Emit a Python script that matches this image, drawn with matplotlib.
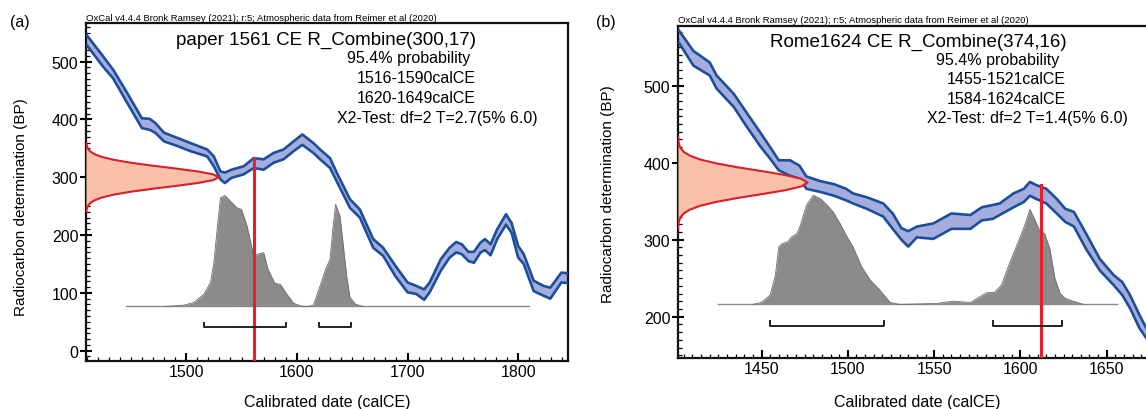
import matplotlib
matplotlib.use("Agg")
import matplotlib.pyplot as plt
from matplotlib.ticker import MultipleLocator

plt.rcParams['font.family'] = ['Liberation Sans', 'DejaVu Sans']

W, H = 1146, 410

# ---------------- Panel (a) data ----------------
cal_a_years = [1410, 1425, 1434, 1446, 1460, 1467, 1472, 1480, 1492, 1504, 1519, 1525,
               1531, 1535, 1541, 1552, 1561, 1570, 1579, 1588, 1597, 1605, 1615, 1621,
               1630, 1636, 1648, 1657, 1669, 1678, 1689, 1700, 1708, 1715, 1720, 1730,
               1738, 1744, 1749, 1755, 1760, 1766, 1770, 1775, 1781, 1789, 1794, 1800,
               1805, 1814, 1823, 1829, 1839, 1845]
cal_a_upper = [546, 509, 486, 448, 402, 401, 394, 377, 368, 359, 348, 336,
               310, 308, 313, 319, 333, 331, 342, 348, 362, 374, 359, 348,
               333, 308, 262, 244, 193, 178, 147, 118, 112, 106, 118, 158,
               178, 188, 184, 171, 171, 187, 193, 184, 210, 236, 221, 181,
               167, 121, 112, 109, 135, 134]
cal_a_lower = [529, 491, 471, 431, 385, 382, 377, 362, 354, 345, 336, 319,
               296, 290, 299, 305, 316, 313, 325, 331, 345, 356, 342, 331,
               316, 293, 247, 230, 178, 164, 129, 101, 98, 88, 101, 138,
               161, 170, 167, 155, 152, 170, 174, 165, 193, 218, 204, 161,
               150, 103, 95, 90, 118, 117]

post_a_years = [1481, 1498, 1507, 1516, 1522, 1525, 1528, 1531, 1535, 1540, 1546, 1550,
                1555, 1561, 1564, 1570, 1574, 1580, 1585, 1591, 1597, 1604, 1610, 1615,
                1621, 1626, 1630, 1632.5, 1635, 1639, 1642, 1645, 1648, 1653, 1660]
post_a_prob = [0.0, 0.012, 0.036, 0.111, 0.216, 0.395, 0.695, 0.979, 1.0, 0.949, 0.889, 0.874,
               0.725, 0.455, 0.470, 0.485, 0.335, 0.21, 0.2, 0.111, 0.03, 0.003, 0.0, 0.012,
               0.186, 0.335, 0.425, 0.695, 0.919, 0.814, 0.545, 0.275, 0.081, 0.021, 0.0]

c14_a_mean = 300
red_offsets = [-60, -55, -50, -45, -40, -35, -30, -25, -20, -15, -10, -5, 0,
               5, 10, 15, 20, 25, 30, 35, 40, 45, 50, 55, 60]
red_a_height = [0.002, 0.0053, 0.0132, 0.0301, 0.0628, 0.120, 0.211, 0.339, 0.500, 0.678, 0.841, 0.958, 1.0,
                0.958, 0.841, 0.678, 0.500, 0.339, 0.211, 0.120, 0.0628, 0.0301, 0.0132, 0.0053, 0.002]
range_a = [(1516, 1590), (1620, 1649)]
event_a_year = 1561
event_a_top = 333
baseline_a = 76.5
baseline_a_span = (1446, 1810)

# ---------------- Panel (b) data ----------------
cal_b_years = [1402, 1410.5, 1420, 1424, 1434, 1441, 1449, 1455, 1460, 1466.5, 1472, 1476,
               1484, 1492, 1499, 1503, 1511, 1520.5, 1526, 1531, 1535, 1540, 1549.5, 1560,
               1571, 1577.6, 1584, 1588, 1596, 1602, 1605.5, 1609, 1615, 1621, 1626, 1631,
               1638, 1646, 1654, 1659, 1663.5, 1669, 1673, 1680]
cal_b_upper = [572, 545, 530, 513, 489, 466, 440, 420, 403, 403, 396, 382,
               376, 372, 366, 360, 355, 347, 334, 315, 311, 317, 321, 334,
               332, 342, 345, 347, 360, 366, 375, 371, 366, 353, 340, 336,
               308, 275, 254, 245, 228, 202, 185, 160]
cal_b_lower = [556, 526, 513, 496, 472, 448, 422, 405, 390, 383, 379, 366,
               362, 357, 351, 347, 340, 330, 314, 300, 291, 303, 301, 314,
               314, 325, 327, 332, 342, 349, 357, 353, 347, 334, 323, 317,
               288, 260, 241, 228, 211, 185, 172, 145]

post_b_years = [1445, 1450, 1455, 1458, 1460, 1462, 1465, 1467.5, 1470.5, 1472.5, 1476, 1480,
                1484, 1488, 1491.5, 1495.5, 1499, 1503, 1508, 1513, 1518.5, 1524.5, 1530,
                1539, 1551.5, 1561, 1565, 1571, 1576.5, 1580.5, 1585, 1589, 1594, 1599.5,
                1602.5, 1605.5, 1608.5, 1611, 1614, 1617, 1620, 1623, 1626, 1630.5, 1636.5]
post_b_prob = [0.0, 0.018, 0.085, 0.268, 0.527, 0.558, 0.573, 0.619, 0.649, 0.726, 0.909, 1.0,
               0.970, 0.909, 0.848, 0.741, 0.634, 0.527, 0.345, 0.223, 0.131, 0.018, 0.0,
               0.003, 0.009, 0.03, 0.024, 0.018, 0.07, 0.107, 0.11, 0.177, 0.39, 0.604,
               0.726, 0.872, 0.771, 0.68, 0.649, 0.512, 0.238, 0.1, 0.055, 0.03, 0.0]

c14_b_mean = 374
red_b_height = [0.0009, 0.0027, 0.0076, 0.0192, 0.0439, 0.0914, 0.172, 0.295, 0.458, 0.645, 0.823, 0.952, 1.0,
                0.952, 0.823, 0.645, 0.458, 0.295, 0.172, 0.0914, 0.0439, 0.0192, 0.0076, 0.0027, 0.0009]
range_b = [(1455, 1521), (1584, 1624)]
event_b_year = 1612
event_b_top = 370.5
baseline_b = 216
baseline_b_span = (1425, 1656)

# ---------------- styling ----------------
BAND_FILL = '#a5addd'
BAND_EDGE = '#1c4f9b'
GRAY_FILL = '#8d8b89'
GRAY_EDGE = '#6e6d6b'
RED_FILL = '#fbc0a9'
RED_EDGE = '#d8202c'
RED_LINE = '#ee1c2a'

fig = plt.figure(figsize=(W / 100, H / 100), dpi=100)


def px_axes(left, top, right, bottom):
    return fig.add_axes([left / W, 1 - bottom / H, (right - left) / W, (bottom - top) / H])


def draw_panel(ax, xlim, ylim, years, up, lo, post_x, post_p, post_h, base, base_span,
               mean, red_h, red_amp, ranges, ev_year, ev_top, br_y, br_tick):
    ax.set_xlim(*xlim)
    ax.set_ylim(*ylim)
    # calibration curve band
    ax.fill_between(years, lo, up, color=BAND_FILL, lw=0, zorder=2)
    ax.plot(years, up, color=BAND_EDGE, lw=1.9, zorder=3, solid_joinstyle='round')
    ax.plot(years, lo, color=BAND_EDGE, lw=1.9, zorder=3, solid_joinstyle='round')
    # posterior distribution
    ax.plot(base_span, [base, base], color='#8a8988', lw=1.0, zorder=4)
    ys = [base + p * post_h for p in post_p]
    ax.fill_between(post_x, base, ys, color=GRAY_FILL, lw=0, zorder=4)
    ax.plot(post_x, ys, color=GRAY_EDGE, lw=0.6, zorder=4)
    # radiocarbon measurement
    red_y = [mean + o for o in red_offsets]
    red_x = [xlim[0] + h * red_amp for h in red_h]
    ax.fill_betweenx(red_y, xlim[0], red_x, color=RED_FILL, lw=0, zorder=5)
    ax.plot(red_x, red_y, color=RED_EDGE, lw=1.5, zorder=5)
    # event line
    ax.plot([ev_year, ev_year], [ylim[0], ev_top], color=RED_LINE, lw=2.2, zorder=6)
    # ranges
    for a, b in ranges:
        ax.plot([a, a, b, b], [br_y + br_tick, br_y, br_y, br_y + br_tick],
                color='#222222', lw=1.4, zorder=6)
    for s in ax.spines.values():
        s.set_linewidth(1.6)
        s.set_color('#111111')
    ax.tick_params(axis='x', which='major', direction='in', length=6, width=1.5,
                   labelsize=11.5, pad=2)
    ax.tick_params(axis='x', which='minor', direction='in', length=3, width=0.9)
    ax.tick_params(axis='y', which='major', direction='inout', length=9, width=1.5,
                   labelsize=11.5, pad=1)
    ax.tick_params(axis='y', which='minor', direction='in', length=3, width=0.9)
    ax.tick_params(top=False, right=False)


# Panel (a)
axA = px_axes(86, 24, 568, 362)
draw_panel(axA, (1409.5, 1845), (-17.8, 566.7), cal_a_years, cal_a_upper, cal_a_lower,
           post_a_years, post_a_prob, 192, baseline_a, baseline_a_span,
           c14_a_mean, red_a_height, 120, range_a, event_a_year, event_a_top, 40.3, 7.5)
axA.xaxis.set_major_locator(MultipleLocator(100))
axA.xaxis.set_minor_locator(MultipleLocator(10))
axA.yaxis.set_major_locator(MultipleLocator(100))
axA.yaxis.set_minor_locator(MultipleLocator(10))

# Panel (b)
xlim_b = (1401.6, 1680)
axB = px_axes(678, 26.7, 678 + (xlim_b[1] - xlim_b[0]) * 1.726, 359.3)
draw_panel(axB, xlim_b, (146, 577.7), cal_b_years, cal_b_upper, cal_b_lower,
           post_b_years, post_b_prob, 141.5, baseline_b, baseline_b_span,
           c14_b_mean, red_b_height, 75, range_b, event_b_year, event_b_top, 188.3, 6.5)
axB.xaxis.set_major_locator(MultipleLocator(50))
axB.xaxis.set_minor_locator(MultipleLocator(5))
axB.yaxis.set_major_locator(MultipleLocator(100))
axB.yaxis.set_minor_locator(MultipleLocator(10))


def ftext(x, y, s, **kw):
    fig.text(x / W, 1 - y / H, s, **kw)


oxcal = "OxCal v4.4.4 Bronk Ramsey (2021); r:5; Atmospheric data from Reimer et al (2020)"
for ax in (axA, axB):
    ax.text(0.0, 1.004, oxcal, transform=ax.transAxes, fontsize=6.8, ha='left', va='bottom')

ftext(10, 22, "(a)", fontsize=11.5, va='center')
ftext(596, 22, "(b)", fontsize=11.5, va='center')

# panel a texts
ftext(176, 40, "paper 1561 CE R_Combine(300,17)", fontsize=13.5, va='center')
ftext(347, 58.5, "95.4% probability", fontsize=11.5, va='center')
ftext(357, 79, "1516-1590calCE", fontsize=11.5, va='center')
ftext(357, 98.5, "1620-1649calCE", fontsize=11.5, va='center')
ftext(337, 118, "X2-Test: df=2 T=2.7(5% 6.0)", fontsize=11.5, va='center')

# panel b texts
ftext(769.5, 42, "Rome1624 CE R_Combine(374,16)", fontsize=13.5, va='center')
ftext(935.6, 60, "95.4% probability", fontsize=11.5, va='center')
ftext(946.4, 80, "1455-1521calCE", fontsize=11.5, va='center')
ftext(946.4, 100, "1584-1624calCE", fontsize=11.5, va='center')
ftext(926.6, 119, "X2-Test: df=2 T=1.4(5% 6.0)", fontsize=11.5, va='center')

# axis labels
ftext(327, 403, "Calibrated date (calCE)", fontsize=11.5, ha='center', va='center')
ftext(917.5, 403, "Calibrated date (calCE)", fontsize=11.5, ha='center', va='center')
ftext(21, 207, "Radiocarbon determination (BP)", fontsize=11, rotation=90, ha='center', va='center')
ftext(608, 194, "Radiocarbon determination (BP)", fontsize=11, rotation=90, ha='center', va='center')

fig.savefig("out.png", dpi=100)
